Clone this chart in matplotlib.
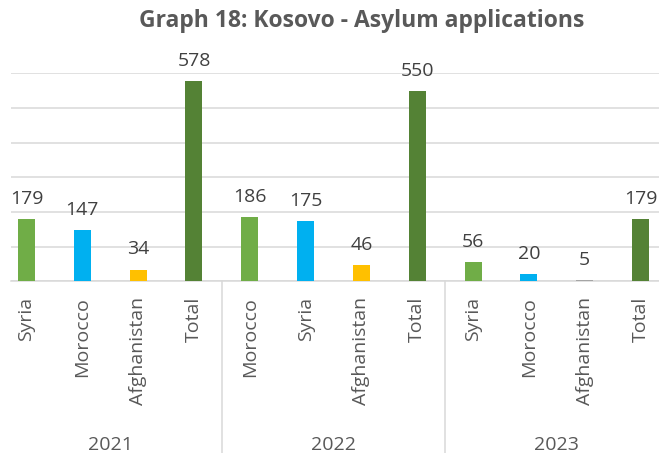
# Kosovo asylum applications, grouped bar chart by year

import numpy as np
import matplotlib.pyplot as plt
from matplotlib.transforms import blended_transform_factory

plt.rcParams['font.family'] = ['Open Sans', 'DejaVu Sans']

years = ["2021", "2022", "2023"]
countries = ["Syria", "Morocco", "Afghanistan", "Total",
             "Morocco", "Syria", "Afghanistan", "Total",
             "Syria", "Morocco", "Afghanistan", "Total"]
values = [179, 147, 34, 578,
          186, 175, 46, 550,
          56, 20, 5, 179]
bar_colors = ["#70AD47", "#00B0F0", "#FFC000", "#548235",
              "#70AD47", "#00B0F0", "#FFC000", "#548235",
              "#70AD47", "#00B0F0", "#A5A5A5", "#548235"]

W, H = 659, 453
fig = plt.figure(figsize=(W / 100, H / 100), dpi=100)
ax = fig.add_axes([11 / W, (H - 281.4) / H, 648 / W, (281.4 - 73.3) / H])

x = np.arange(len(values))
ax.bar(x, values, width=0.305, color=bar_colors, zorder=3)

for xi, v in zip(x, values):
    ax.annotate(str(v), (xi, v), xytext=(0, 8), textcoords="offset points",
                ha="center", va="bottom", fontsize=14, color="#404040")

ax.set_ylim(0, 600)
ax.set_xlim(-0.278, 11.331)
ax.set_yticks(np.arange(0, 601, 100))
ax.yaxis.grid(True, color="#D9D9D9", linewidth=1.1)
ax.set_yticklabels([])
ax.tick_params(axis="y", length=0)
for s in ["top", "right", "left"]:
    ax.spines[s].set_visible(False)
ax.spines["bottom"].set_color("#D9D9D9")
ax.spines["bottom"].set_linewidth(1.1)

ax.set_xticks(x)
ax.set_xticklabels(countries, rotation=90, fontsize=14, color="#595959", va="top")
ax.tick_params(axis="x", length=0, pad=11)

# year level of the category axis
trans = blended_transform_factory(ax.transData, fig.transFigure)
for i, yr in enumerate(years):
    ax.text(i * 4 + 1.5, 1 - 445 / H, yr, transform=trans, ha="center", va="center",
            fontsize=14, color="#595959")
for sep in [3.5, 7.5]:
    ax.plot([sep, sep], [1 - 281.4 / H, 0], transform=trans, color="#D9D9D9",
            linewidth=1.1, clip_on=False)

fig.text(362 / W, 1 - 21 / H, "Graph 18: Kosovo - Asylum applications", ha="center", va="center",
         fontsize=16.5, fontweight="bold", color="#595959")

fig.savefig("out.png", dpi=100)
